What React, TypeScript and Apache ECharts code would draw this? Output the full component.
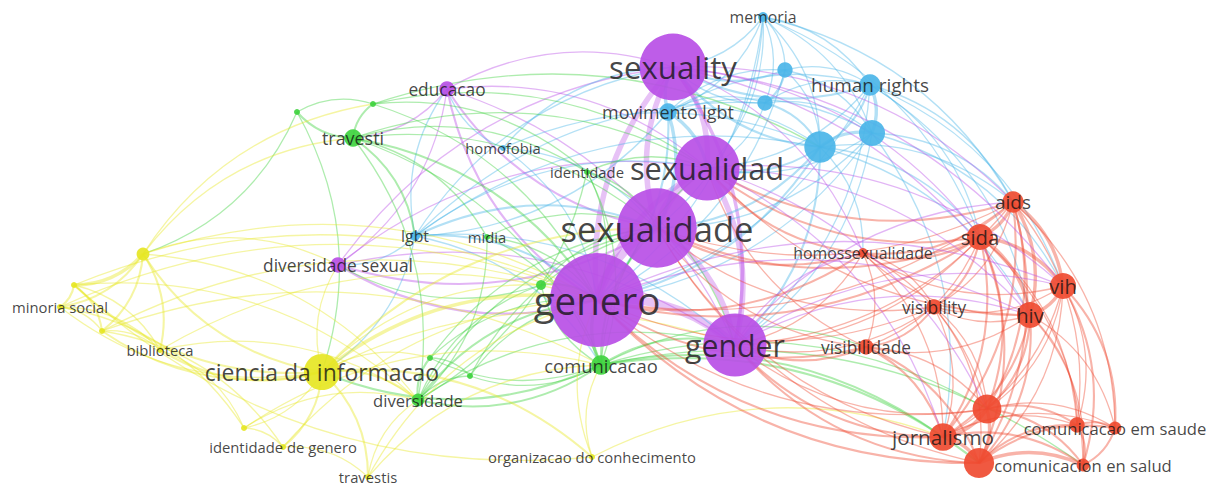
import React, { useEffect, useRef } from "react";
import * as echarts from "echarts";

const clusterColors = ["#ef4b31", "#3fd23f", "#4bb5e8", "#e6e624", "#b94fe6"];

// id, label, cluster (0 red,1 green,2 blue,3 yellow,4 purple)
const nodeIds = [
  "genero", "sexualidade", "sexuality", "sexualidad", "gender", "educacao", "divsex",
  "memoria", "movlgbt", "b1", "b2", "hr", "b3", "b4", "lgbt", "homofobia",
  "travesti", "g1", "g2", "identidade", "midia", "comunicacao", "diversidade", "g3", "g4", "g5",
  "ciencia", "y1", "y2", "minoria", "y3", "biblioteca", "y4", "idgenero", "travestis", "orgcon",
  "aids", "sida", "homossex", "vih", "hiv", "visibility", "visibilidade", "r1", "jornalismo", "r2", "r3", "cemsaude", "censalud",
];
const nodeLabels = [
  "genero", "sexualidade", "sexuality", "sexualidad", "gender", "educacao", "diversidade sexual",
  "memoria", "movimento lgbt", "", "", "human rights", "", "", "lgbt", "homofobia",
  "travesti", "", "", "identidade", "midia", "comunicacao", "diversidade", "", "", "",
  "ciencia da informacao", "", "", "minoria social", "", "biblioteca", "", "identidade de genero", "travestis", "organizacao do conhecimento",
  "aids", "sida", "homossexualidade", "vih", "hiv", "visibility", "visibilidade", "", "jornalismo", "", "", "comunicacao em saude", "comunicacion en salud",
];
const nodeCluster = [
  4, 4, 4, 4, 4, 4, 4,
  2, 2, 2, 2, 2, 2, 2, 2, 2,
  1, 1, 1, 1, 1, 1, 1, 1, 1, 1,
  3, 3, 3, 3, 3, 3, 3, 3, 3, 3,
  0, 0, 0, 0, 0, 0, 0, 0, 0, 0, 0, 0, 0,
];
const nodeX = [
  597, 657, 673, 707, 735, 447, 338,
  763, 668, 785, 765, 870, 820, 872, 415, 503,
  353, 297, 373, 587, 487, 601, 418, 430, 470, 541,
  322, 143, 74, 60, 102, 160, 244, 283, 368, 592,
  1013, 980, 863, 1063, 1030, 934, 866, 987, 943, 979, 1077, 1115, 1083,
];
const nodeY = [
  300, 228, 67, 168, 345, 89, 265,
  17, 112, 70, 103, 85, 147, 133, 236, 148,
  138, 112, 104, 172, 237, 365, 400, 358, 376, 285,
  372, 254, 285, 307, 331, 350, 428, 447, 477, 457,
  202, 237, 253, 286, 315, 307, 347, 409, 437, 463, 425, 428, 465,
];
const nodeOccurrences = [
  109, 79, 57, 54, 51, 4, 4,
  2, 5, 4, 4, 7, 14, 10, 2, 1,
  5, 1, 1, 1, 1, 6, 3, 1, 1, 2,
  18, 3, 1, 1, 1, 1, 1, 1, 1, 1,
  7, 10, 2, 10, 10, 4, 4, 12, 11, 13, 4, 3, 3,
];

// links: source, target, strength (1..5)
const linkPairs: [string, string, number][] = [
  ["genero", "sexualidade", 5], ["genero", "gender", 5], ["genero", "sexualidad", 4], ["genero", "sexuality", 4],
  ["sexualidade", "sexualidad", 5], ["sexualidade", "sexuality", 4], ["sexualidade", "gender", 4],
  ["sexuality", "sexualidad", 4], ["sexualidad", "gender", 4], ["sexuality", "gender", 3],
  ["genero", "educacao", 2], ["genero", "divsex", 2], ["sexualidade", "educacao", 2], ["sexualidade", "divsex", 2],
  ["educacao", "sexuality", 1], ["educacao", "sexualidad", 1], ["divsex", "gender", 1], ["divsex", "sexualidad", 1],
  ["educacao", "travesti", 1], ["educacao", "divsex", 1], ["divsex", "sexuality", 1], ["educacao", "gender", 1],

  ["memoria", "b1", 1], ["memoria", "b2", 1], ["memoria", "hr", 1], ["memoria", "b3", 1], ["memoria", "b4", 1],
  ["memoria", "movlgbt", 1], ["memoria", "sexuality", 1], ["memoria", "sexualidad", 1], ["memoria", "genero", 1],
  ["memoria", "sida", 1], ["memoria", "aids", 1], ["memoria", "sexualidade", 1],
  ["movlgbt", "sexuality", 3], ["movlgbt", "sexualidad", 3], ["movlgbt", "sexualidade", 3], ["movlgbt", "genero", 2],
  ["movlgbt", "b1", 1], ["movlgbt", "b2", 1], ["movlgbt", "hr", 1], ["movlgbt", "b3", 1], ["movlgbt", "b4", 1], ["movlgbt", "lgbt", 1],
  ["b1", "b2", 2], ["b1", "hr", 1], ["b1", "b3", 1], ["b1", "b4", 1], ["b2", "b3", 2], ["b2", "hr", 1], ["b2", "b4", 1],
  ["hr", "b3", 2], ["hr", "b4", 3], ["b3", "b4", 3],
  ["b3", "sexualidad", 2], ["b3", "sexualidade", 2], ["b3", "genero", 2], ["b3", "gender", 2], ["b3", "sexuality", 2],
  ["b4", "sexualidad", 1], ["b4", "sexualidade", 1], ["b4", "genero", 1], ["b4", "gender", 1],
  ["hr", "sexuality", 2], ["hr", "sexualidad", 1], ["hr", "genero", 1], ["hr", "gender", 1],
  ["hr", "aids", 1], ["hr", "sida", 1], ["hr", "hiv", 1], ["hr", "vih", 1],
  ["b1", "sexuality", 2], ["b2", "sexuality", 1], ["b2", "sexualidad", 1], ["b1", "genero", 1],
  ["b3", "aids", 1], ["b3", "sida", 1], ["b3", "hiv", 1], ["b4", "aids", 1], ["b4", "vih", 1], ["b3", "homossex", 1], ["b4", "jornalismo", 1],
  ["lgbt", "genero", 2], ["lgbt", "sexualidade", 2], ["lgbt", "sexualidad", 1], ["lgbt", "sexuality", 1],
  ["lgbt", "b3", 1], ["lgbt", "divsex", 1], ["lgbt", "educacao", 1], ["lgbt", "comunicacao", 1], ["lgbt", "b2", 1],
  ["lgbt", "gender", 1], ["lgbt", "ciencia", 1],
  ["homofobia", "sexualidade", 1], ["homofobia", "genero", 1], ["homofobia", "educacao", 1], ["homofobia", "b3", 1], ["homofobia", "sexuality", 1],

  ["travesti", "g1", 2], ["travesti", "g2", 2], ["g1", "g2", 1], ["travesti", "lgbt", 2], ["travesti", "genero", 2],
  ["travesti", "sexualidade", 1], ["travesti", "identidade", 1], ["travesti", "comunicacao", 1], ["travesti", "midia", 1],
  ["travesti", "diversidade", 1], ["g1", "y1", 1], ["g1", "ciencia", 1], ["g2", "sexualidad", 1], ["g2", "genero", 1], ["g2", "identidade", 1],
  ["travesti", "sexualidad", 1], ["g2", "b3", 1],
  ["identidade", "genero", 1], ["identidade", "sexualidade", 1], ["identidade", "sexualidad", 1], ["identidade", "comunicacao", 1],
  ["identidade", "diversidade", 1], ["identidade", "gender", 1],
  ["midia", "genero", 1], ["midia", "comunicacao", 1], ["midia", "sexualidade", 1], ["midia", "diversidade", 1],
  ["comunicacao", "genero", 3], ["comunicacao", "gender", 2], ["comunicacao", "sexualidade", 2], ["comunicacao", "diversidade", 2],
  ["comunicacao", "jornalismo", 2], ["comunicacao", "r2", 2], ["comunicacao", "ciencia", 2], ["comunicacao", "g3", 1],
  ["comunicacao", "g4", 1], ["comunicacao", "g5", 1], ["comunicacao", "sexualidad", 1], ["comunicacao", "visibilidade", 1],
  ["comunicacao", "r1", 1], ["comunicacao", "censalud", 1],
  ["diversidade", "g3", 2], ["diversidade", "g4", 1], ["diversidade", "genero", 2], ["diversidade", "g5", 1],
  ["diversidade", "sexualidade", 1], ["diversidade", "gender", 1],
  ["g3", "g4", 1], ["g3", "genero", 1], ["g4", "genero", 1], ["g4", "sexualidade", 1],
  ["g5", "genero", 2], ["g5", "sexualidade", 1], ["g5", "divsex", 1], ["g3", "sexualidade", 1],

  ["ciencia", "y1", 2], ["ciencia", "y2", 2], ["ciencia", "minoria", 1], ["ciencia", "y3", 2], ["ciencia", "biblioteca", 2],
  ["ciencia", "y4", 1], ["ciencia", "idgenero", 2], ["ciencia", "travestis", 2], ["ciencia", "orgcon", 2],
  ["ciencia", "genero", 3], ["ciencia", "sexualidade", 2], ["ciencia", "divsex", 1], ["ciencia", "gender", 1],
  ["ciencia", "diversidade", 2], ["ciencia", "g3", 1], ["ciencia", "g5", 1],
  ["y1", "y2", 3], ["y1", "minoria", 2], ["y1", "y3", 2], ["y1", "biblioteca", 2], ["y1", "travesti", 1],
  ["y1", "genero", 1], ["y1", "divsex", 1], ["y1", "g2", 1], ["y1", "diversidade", 1],
  ["y2", "minoria", 2], ["y2", "y3", 2], ["y2", "biblioteca", 1], ["y2", "genero", 1], ["y2", "diversidade", 1],
  ["minoria", "y3", 1], ["minoria", "biblioteca", 1], ["minoria", "genero", 1], ["minoria", "y4", 1],
  ["y3", "biblioteca", 1], ["y3", "genero", 1], ["y3", "idgenero", 1], ["y3", "comunicacao", 1],
  ["biblioteca", "genero", 1], ["biblioteca", "y4", 1], ["biblioteca", "diversidade", 1],
  ["y4", "idgenero", 1], ["y4", "diversidade", 1], ["y4", "comunicacao", 1],
  ["idgenero", "travestis", 1], ["idgenero", "genero", 1],
  ["travestis", "comunicacao", 1], ["travestis", "genero", 1], ["travestis", "diversidade", 1],
  ["orgcon", "genero", 1], ["orgcon", "comunicacao", 1], ["orgcon", "jornalismo", 1], ["orgcon", "y2", 1],

  ["aids", "sida", 3], ["aids", "vih", 3], ["aids", "hiv", 3], ["aids", "homossex", 2], ["aids", "visibility", 1],
  ["aids", "r1", 2], ["aids", "jornalismo", 2], ["aids", "r2", 2], ["aids", "r3", 1], ["aids", "cemsaude", 1],
  ["aids", "sexualidad", 2], ["aids", "sexualidade", 1], ["aids", "genero", 1], ["aids", "gender", 1],
  ["sida", "vih", 3], ["sida", "hiv", 3], ["sida", "homossex", 2], ["sida", "visibility", 2], ["sida", "visibilidade", 1],
  ["sida", "r1", 2], ["sida", "jornalismo", 2], ["sida", "r2", 2], ["sida", "r3", 1], ["sida", "censalud", 1],
  ["sida", "sexualidad", 2], ["sida", "sexualidade", 2], ["sida", "genero", 2], ["sida", "gender", 1],
  ["vih", "hiv", 3], ["vih", "r1", 1], ["vih", "jornalismo", 1], ["vih", "r2", 1], ["vih", "r3", 1],
  ["vih", "cemsaude", 2], ["vih", "censalud", 2], ["vih", "visibility", 1], ["vih", "homossex", 1],
  ["hiv", "r1", 2], ["hiv", "jornalismo", 2], ["hiv", "r2", 2], ["hiv", "r3", 1], ["hiv", "cemsaude", 1],
  ["hiv", "censalud", 1], ["hiv", "visibility", 1], ["hiv", "visibilidade", 1], ["hiv", "homossex", 1], ["hiv", "sexualidad", 1],
  ["homossex", "visibility", 1], ["homossex", "visibilidade", 1], ["homossex", "sexualidade", 2], ["homossex", "genero", 2],
  ["homossex", "sexualidad", 2], ["homossex", "jornalismo", 1], ["homossex", "r1", 1], ["homossex", "gender", 1],
  ["visibility", "visibilidade", 2], ["visibility", "r1", 1], ["visibility", "jornalismo", 1], ["visibility", "r2", 1],
  ["visibility", "gender", 1], ["visibility", "sexualidade", 1], ["visibility", "genero", 1],
  ["visibilidade", "r1", 1], ["visibilidade", "jornalismo", 2], ["visibilidade", "r2", 2], ["visibilidade", "gender", 2],
  ["visibilidade", "genero", 2], ["visibilidade", "sexualidade", 1], ["visibilidade", "sexualidad", 1],
  ["r1", "jornalismo", 3], ["r1", "r2", 3], ["r1", "r3", 2], ["r1", "cemsaude", 1], ["r1", "censalud", 2],
  ["r1", "gender", 1], ["r1", "genero", 1],
  ["jornalismo", "r2", 3], ["jornalismo", "r3", 1], ["jornalismo", "cemsaude", 1], ["jornalismo", "censalud", 2],
  ["jornalismo", "gender", 2], ["jornalismo", "genero", 2], ["jornalismo", "sexualidade", 1],
  ["r2", "r3", 2], ["r2", "cemsaude", 2], ["r2", "censalud", 3], ["r2", "gender", 2], ["r2", "genero", 2], ["r2", "sexualidade", 1],
  ["r3", "cemsaude", 2], ["r3", "censalud", 2], ["cemsaude", "censalud", 2],
  ["gender", "hiv", 1], ["gender", "vih", 1], ["gender", "aids", 1], ["gender", "homossex", 1],
  ["sexualidad", "vih", 1], ["sexualidad", "hiv", 1], ["sexualidad", "r1", 1], ["sexualidad", "jornalismo", 1],
  ["sexuality", "aids", 1], ["sexuality", "sida", 1], ["sexuality", "hiv", 1], ["sexuality", "vih", 1], ["sexuality", "homossex", 1],
  ["genero", "vih", 1], ["genero", "hiv", 1],
];

const strengthWidth = [0, 1.3, 2.1, 3.4, 5.5, 8.5];
const diameter = (w: number) => 6 + 9.3 * (Math.sqrt(w) - 1);
const fontSize = (w: number) => 13.2 + 0.27 * diameter(w);

export default function App() {
  const ref = useRef<HTMLDivElement>(null);
  useEffect(() => {
    if (!ref.current) return;
    const chart = echarts.init(ref.current, null, { renderer: "svg" });
    const index: Record<string, number> = {};
    nodeIds.forEach((id, i) => (index[id] = i));

    const nodes = nodeIds.map((id, i) => ({
      name: id,
      value: [nodeX[i], nodeY[i]],
      symbolSize: diameter(nodeOccurrences[i]),
      itemStyle: { color: clusterColors[nodeCluster[i]], opacity: 0.92 },
    }));
    const links = linkPairs.map(([s, t, k]) => ({
      source: index[s],
      target: index[t],
      lineStyle: {
        color: clusterColors[nodeCluster[index[s]]],
        width: strengthWidth[k],
        opacity: k >= 4 ? 0.35 : 0.42,
        curveness: 0.22,
      },
    }));
    const labelData = nodeIds
      .map((id, i) => ({
        value: [nodeX[i], nodeY[i]],
        label: {
          show: nodeLabels[i] !== "",
          formatter: nodeLabels[i],
          fontSize: fontSize(nodeOccurrences[i]),
        },
      }))
      .filter((d) => d.label.show);

    chart.setOption({
      animation: false,
      backgroundColor: "#ffffff",
      grid: { left: 0, right: 0, top: 0, bottom: 0 },
      xAxis: { type: "value", min: 0, max: 1224, show: false },
      yAxis: { type: "value", min: 0, max: 487, inverse: true, show: false },
      series: [
        {
          type: "graph",
          coordinateSystem: "cartesian2d",
          layout: "none",
          silent: true,
          z: 2,
          data: nodes,
          links,
          label: { show: false },
          emphasis: { disabled: true },
        },
        {
          type: "scatter",
          silent: true,
          z: 5,
          symbolSize: 1,
          itemStyle: { color: "rgba(0,0,0,0)" },
          data: labelData,
          label: {
            show: true,
            position: "inside",
            color: "#141414",
            fontFamily: "Open Sans",
          },
          emphasis: { disabled: true },
        },
      ],
    });
    return () => chart.dispose();
  }, []);
  return (
    <div
      ref={ref}
      style={{ position: "absolute", left: 0, top: 0, width: 1224, height: 487 }}
    />
  );
}
